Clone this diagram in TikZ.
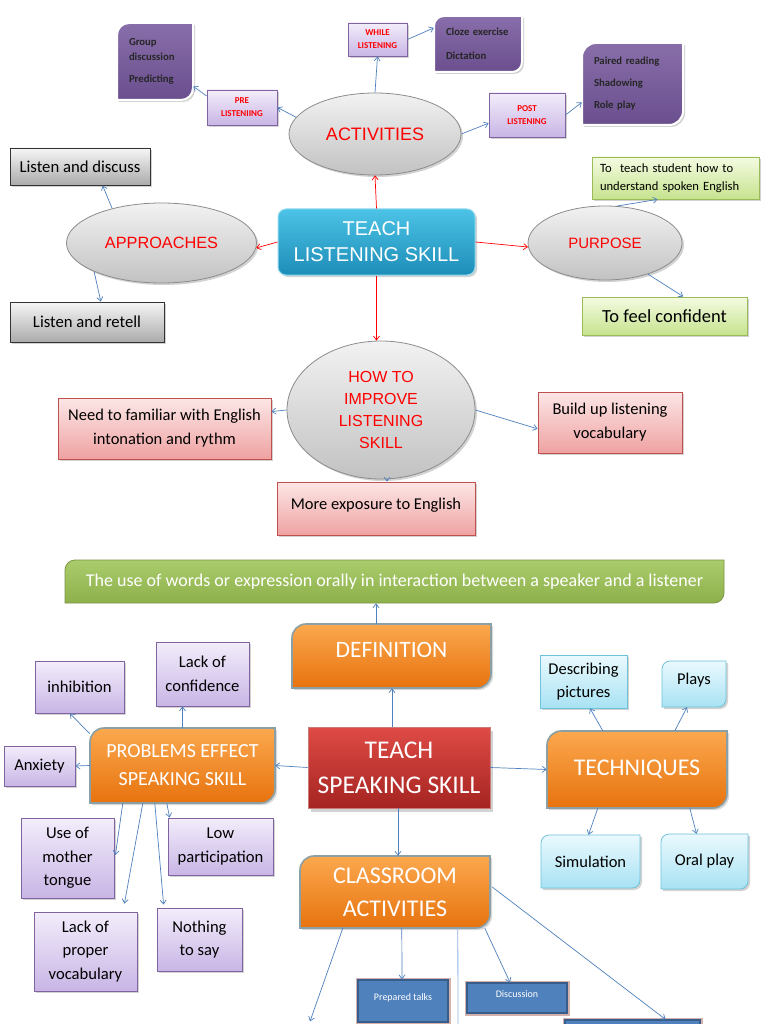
\documentclass[tikz,border=0pt]{standalone}
\usepackage{fontspec}
\setmainfont{Carlito}
\newfontfamily\arialf{Liberation Sans}
\usetikzlibrary{shapes.geometric,shadows,arrows.meta,calc}
\definecolor{arrblue}{HTML}{4F81BD}
\definecolor{dkpurp}{HTML}{7B5EA0}
\definecolor{dkpurpb}{HTML}{6A4E8E}
\definecolor{lavtop}{HTML}{F3EDFB}
\definecolor{lavbot}{HTML}{C8B5E5}
\definecolor{lavbd}{HTML}{8064A2}
\definecolor{elltop}{HTML}{F2F2F2}
\definecolor{ellbot}{HTML}{C2C2C2}
\definecolor{ellbd}{HTML}{8C8C8C}
\definecolor{tlstop}{HTML}{4CC3E6}
\definecolor{tlsbot}{HTML}{1D8DB8}
\definecolor{grntop}{HTML}{F4FBE2}
\definecolor{grnbot}{HTML}{C6E38E}
\definecolor{grnbd}{HTML}{9BBB59}
\definecolor{pnktop}{HTML}{FCE6E6}
\definecolor{pnkbot}{HTML}{EFA2A2}
\definecolor{pnkbd}{HTML}{C0504D}
\definecolor{bantop}{HTML}{AACC6C}
\definecolor{banbot}{HTML}{8DB04B}
\definecolor{orgtop}{HTML}{FBA84E}
\definecolor{orgbot}{HTML}{E7730E}
\definecolor{orgbd}{HTML}{8BA0A6}
\definecolor{redtop}{HTML}{DF4B46}
\definecolor{redbot}{HTML}{A52421}
\definecolor{cyntop}{HTML}{EAF9FE}
\definecolor{cynbot}{HTML}{A8E2F3}
\definecolor{cynbd}{HTML}{6CC3DA}
\definecolor{grtop}{HTML}{F6F6F6}
\definecolor{grbot}{HTML}{ABABAB}
\definecolor{bluebx}{HTML}{4F81BD}
\definecolor{bluebd}{HTML}{385D8A}
\definecolor{glowc}{HTML}{A8665F}
\definecolor{vline}{HTML}{8EB4E3}
% diagonal-rounded box: shape style, text style, name, cx, cy, w, h, r, text
\newcommand\dgnode[9]{%
 \path[#1] ({#4-#6/2},{#5-#7/2+#8}) .. controls ({#4-#6/2},{#5-#7/2+0.448*#8}) and ({#4-#6/2+0.448*#8},{#5-#7/2}) .. ({#4-#6/2+#8},{#5-#7/2}) -- ({#4+#6/2},{#5-#7/2}) -- ({#4+#6/2},{#5+#7/2-#8}) .. controls ({#4+#6/2},{#5+#7/2-0.448*#8}) and ({#4+#6/2-0.448*#8},{#5+#7/2}) .. ({#4+#6/2-#8},{#5+#7/2}) -- ({#4-#6/2},{#5+#7/2}) -- cycle;
 \node[#2, minimum width=#6pt, minimum height=#7pt] (#3) at (#4,#5) {#9};}
\begin{document}
\begin{tikzpicture}[x=1pt,y=-1pt,
  base/.style={inner sep=0pt, align=center},
  shad/.style={drop shadow={opacity=0.35,shadow xshift=2pt,shadow yshift=-2pt}},
  dkbox/.style={shad, top color=dkpurp!90!white, bottom color=dkpurpb, draw=white, line width=2pt},
  dktext/.style={base, align=left, text=black!85, font=\fontsize{10.7}{15}\selectfont\bfseries},
  lavbox/.style={base, shad, top color=lavtop, bottom color=lavbot, draw=lavbd, line width=0.8pt, text=red, font=\fontsize{9}{13}\selectfont\bfseries},
  ellbox/.style={base, ellipse, shad, top color=elltop, bottom color=ellbot, draw=ellbd, line width=0.8pt, text=red},
  tlsbox/.style={base, rounded corners=8pt, shad, top color=tlstop, bottom color=tlsbot, draw=tlstop!60!white, line width=1pt, text=white, font=\arialf\fontsize{20}{26}\selectfont},
  grbox/.style={base, shad, top color=grtop, bottom color=grbot, draw=black!80, line width=0.9pt, font=\fontsize{16.7}{18}\selectfont},
  grnbox/.style={base, shad, top color=grntop, bottom color=grnbot, draw=grnbd, line width=0.8pt},
  pnkbox/.style={base, shad, top color=pnktop, bottom color=pnkbot, draw=pnkbd, line width=0.8pt, font=\fontsize{16.5}{24}\selectfont},
  banbox/.style={top color=bantop, bottom color=banbot, draw=grnbd!80!black, line width=0.8pt},
  bantext/.style={base, text=white, font=\fontsize{18}{20}\selectfont},
  orgbox/.style={drop shadow={opacity=0.3,shadow xshift=2pt,shadow yshift=-2pt}, top color=orgtop, bottom color=orgbot, draw=orgbd, line width=1.6pt},
  orgtext/.style={base, text=white},
  redbox/.style={base, drop shadow={opacity=0.35,shadow xshift=3pt,shadow yshift=-4pt}, top color=redtop, bottom color=redbot, draw=redbot!60!white, line width=0.8pt, text=white, font=\fontsize{25.5}{35}\selectfont},
  pbox/.style={base, shad, top color=lavtop, bottom color=lavbot, draw=lavbd, line width=0.8pt, font=\fontsize{16.6}{23.5}\selectfont},
  cybox/.style={shad, top color=cyntop, bottom color=cynbot, draw=cynbd, line width=0.8pt},
  cytext/.style={base, font=\fontsize{16.5}{23}\selectfont},
  bluebox/.style={base, preaction={draw=glowc, line width=5pt, opacity=0.5}, fill=bluebx, draw=bluebd, line width=1.2pt, text=white, font=\fontsize{10}{12}\selectfont},
  arr/.style={draw=arrblue, line width=0.7pt, -{Straight Barb[length=4pt,width=6pt]}},
  rarr/.style={draw=red, line width=0.7pt, -{Straight Barb[length=4pt,width=6pt]}},
  plainline/.style={draw=vline, line width=0.8pt}
]
\useasboundingbox (0,0) rectangle (768,1024);
\clip (0,0) rectangle (768,1024);
\fill[white] (0,0) rectangle (768,1024);

% ---------- listening part ----------
\dgnode{dkbox}{dktext, text width=52pt}{grp}{155}{61.5}{76}{77}{12}{Group\\discussion\\[7pt]Predicting}
\dgnode{dkbox}{dktext, text width=64pt}{cloze}{478}{44}{88}{56}{10}{Cloze exercise\\[9pt]Dictation}
\dgnode{dkbox}{dktext, text width=77pt}{paired}{632.5}{84}{101}{82}{14}{Paired reading\\[7pt]Shadowing\\[7pt]Role play}

\node[lavbox, minimum width=70pt, minimum height=35pt] (pre) at (242,107.5) {PRE\\LISTENIING};
\node[lavbox, minimum width=59pt, minimum height=33pt] (while) at (377.5,39.5) {WHILE\\LISTENING};
\node[lavbox, minimum width=76pt, minimum height=44pt] (post) at (527,115) {POST\\LISTENING};

\node[ellbox, minimum width=172pt, minimum height=82pt, font=\arialf\fontsize{18}{20}\selectfont] (act) at (375,134) {ACTIVITIES};
\node[tlsbox, minimum width=197pt, minimum height=66pt] (tls) at (376.5,242) {TEACH\\LISTENING SKILL};
\node[ellbox, minimum width=190pt, minimum height=80pt, font=\arialf\fontsize{16.3}{18}\selectfont] (app) at (161.5,243) {APPROACHES};
\node[ellbox, minimum width=154pt, minimum height=74pt, font=\arialf\fontsize{15}{18}\selectfont] (pur) at (605,243) {PURPOSE};

\node[grbox, minimum width=140pt, minimum height=37pt] (lad) at (80,166.5) {Listen and discuss};
\node[grbox, minimum width=154pt, minimum height=40pt] (lrt) at (87,322) {Listen and retell};

\node[grnbox, minimum width=167pt, minimum height=42pt, text width=151pt, align=left, font=\fontsize{12.6}{18}\selectfont] (grn) at (675.5,178) {To\ \ teach student how to\\understand spoken English};
\node[grnbox, minimum width=165pt, minimum height=38pt, font=\fontsize{18.5}{20}\selectfont] (conf) at (664.5,316) {To feel confident};

\node[ellbox, minimum width=188pt, minimum height=138pt, font=\arialf\fontsize{16}{22}\selectfont] (how) at (381,410) {HOW TO\\IMPROVE\\LISTENING\\SKILL};
\node[pnkbox, minimum width=213pt, minimum height=61pt] (need) at (164.5,428.5) {Need to familiar with English\\intonation and rythm};
\node[pnkbox, minimum width=144pt, minimum height=61pt] (build) at (610,422.5) {Build up listening\\vocabulary};
\node[pnkbox, minimum width=198pt, minimum height=53pt, text depth=10pt] (more) at (376,508.5) {More exposure to English};

% arrows (listening)
\draw[arr] (act.168) -- (pre.east);
\draw[arr] (pre.162) -- (grp.-33);
\draw[arr] (act.north) -- (while.south);
\draw[arr] (while.east) -- (cloze.160);
\draw[arr] (act.east) -- (post.192);
\draw[arr] (post.east) -- (paired.200);
\draw[rarr] (tls.north) -- (act.south);
\draw[rarr] (tls.west) -- (app.-3);
\draw[rarr] (tls.east) -- (pur.183);
\draw[rarr] (tls.south) -- (tls.south |- how.north);
\draw[arr] (app.145) -- (lad.-40);
\draw[arr] (app.203) -- (lrt.56);
\draw[arr] (pur.72) -- (grn.230);
\draw[arr] (pur.-36) -- (conf.46);
\draw[arr] (how.west) -- (need.9);
\draw[arr] (how.east) -- (build.185);
\draw[arr] (how.-85) -- (how.-85 |- more.north);

% ---------- speaking part ----------
\dgnode{banbox}{bantext}{banner}{394.5}{581.5}{659}{43}{10}{The use of words or expression orally in interaction between a speaker and a listener}
\dgnode{orgbox}{orgtext, text depth=12pt, font=\fontsize{23.5}{24}\selectfont}{def}{391.5}{656}{199}{64}{14}{DEFINITION}
\node[redbox, minimum width=182pt, minimum height=81pt] (tss) at (399,767.5) {TEACH\\SPEAKING SKILL};
\dgnode{orgbox}{orgtext, font=\fontsize{20}{28}\selectfont}{prob}{182.5}{765.5}{185}{75}{14}{PROBLEMS EFFECT\\SPEAKING SKILL}
\dgnode{orgbox}{orgtext, font=\fontsize{24}{26}\selectfont}{tech}{637}{769.5}{180}{77}{14}{TECHNIQUES}
\dgnode{orgbox}{orgtext, font=\fontsize{24}{33}\selectfont}{cls}{395}{892}{190}{72}{14}{CLASSROOM\\ACTIVITIES}

\node[pbox, minimum width=89pt, minimum height=52pt] (inh) at (79.5,687) {inhibition};
\node[pbox, minimum width=93pt, minimum height=64pt] (loc) at (202.5,674) {Lack of\\confidence};
\node[pbox, minimum width=71pt, minimum height=40pt] (anx) at (39.5,766) {Anxiety};
\node[pbox, minimum width=93pt, minimum height=80pt] (umt) at (67.5,858) {Use of\\mother\\tongue};
\node[pbox, minimum width=105pt, minimum height=57pt] (lowp) at (220.5,846.5) {Low\\participation};
\node[pbox, minimum width=103pt, minimum height=79pt] (lpv) at (85.5,951.5) {Lack of\\proper\\vocabulary};
\node[pbox, minimum width=85pt, minimum height=63pt] (nts) at (199.5,939.5) {Nothing\\to say};

\node[cytext, cybox, minimum width=87pt, minimum height=53pt] (dp) at (583.5,681.5) {Describing\\pictures};
\dgnode{cybox}{cytext, text depth=10pt}{plays}{694}{684}{64}{46}{8}{Plays}
\dgnode{cybox}{cytext}{sim}{590.5}{861.5}{99}{53}{8}{Simulation}
\dgnode{cybox}{cytext}{oral}{704.5}{861.5}{87}{55}{8}{Oral play}

\node[bluebox, minimum width=90pt, minimum height=42pt, text depth=8pt] (pt) at (403,1001) {Prepared talks};
\node[bluebox, minimum width=100pt, minimum height=30pt, text depth=8pt] (disc) at (517,998) {Discussion};
\node[bluebox, minimum width=115pt, minimum height=52pt] (pb1) at (302,1052) {};
\node[bluebox, minimum width=135pt, minimum height=50pt] (pb2) at (632.5,1045) {};

% arrows (speaking)
\draw[arr] ([xshift=-15.5pt]def.north) -- ([xshift=-15.5pt]def.north |- banner.south);
\draw[arr] ([xshift=-7pt]tss.north) -- ([xshift=-7pt]tss.north |- def.south);
\draw[arr] (tss.west) -- (prob.east);
\draw[arr] (tss.east) -- (tech.west);
\draw[arr] ([xshift=-1pt]tss.south) -- ([xshift=-1pt]tss.south |- cls.north);

\draw[arr] ($(prob.north west)+(0,6)$) -- (inh.-110);
\draw[arr] (prob.north) -- (prob.north |- loc.south);
\draw[arr] (prob.west) -- (anx.east);
\draw[arr] ($(prob.south west)+(33,0)$) -- ($(umt.east)+(1,-3)$);
\draw[arr] ($(prob.south west)+(53,0)$) -- ($(lpv.north east)+(-13,-8)$);
\draw[arr] ($(prob.south west)+(65,0)$) -- ($(nts.north west)+(7,-3)$);
\draw[arr] ($(prob.south west)+(77,0)$) -- ($(lowp.north west)+(2,0)$);

\draw[arr] ($(tech.north west)+(56,0)$) -- ($(dp.south)+(6.5,0)$);
\draw[arr] ($(tech.north west)+(128,0)$) -- ($(plays.south)+(-7,0)$);
\draw[arr] ($(tech.south west)+(51,0)$) -- ($(sim.north)+(-2,0)$);
\draw[arr] ($(tech.south west)+(143,0)$) -- ($(oral.north)+(-8,0)$);

\coordinate (vend) at (458,1030);
\draw[arr] ($(cls.south west)+(43,0)$) -- ($(pb1.north)+(8,-4)$);
\draw[arr] ($(cls.south west)+(102,0)$) -- ($(pt.north)+(-1,0)$);
\draw[plainline] ($(cls.south west)+(158,0)$) -- (vend);
\draw[arr] ($(cls.south west)+(185,0)$) -- ($(disc.north)+(-7,0)$);
\draw[arr] ($(cls.east)+(2,-5)$) -- ($(pb2.north)+(33,0)$);
\end{tikzpicture}
\end{document}
